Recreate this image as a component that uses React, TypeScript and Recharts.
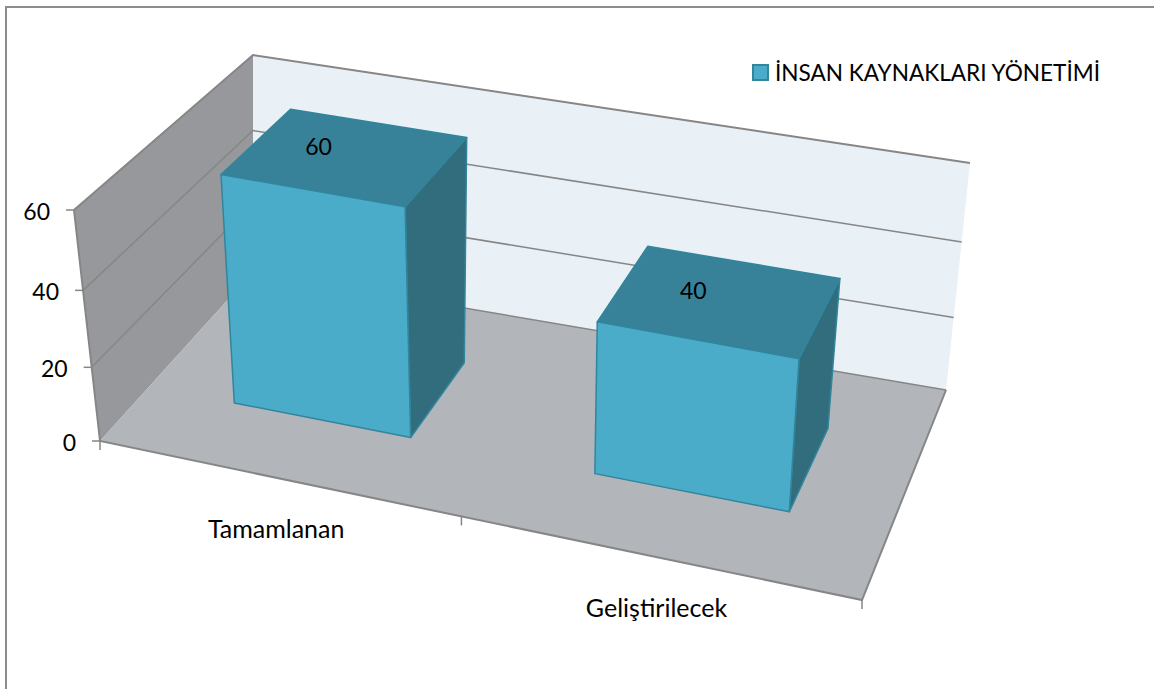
import { Bar, BarChart, Customized, Legend, XAxis, YAxis } from "recharts";

const categories = ["Tamamlanan", "Geliştirilecek"];
const seriesValues = [60, 40];
const seriesName = "İNSAN KAYNAKLARI YÖNETİMİ";
const yTicks = [0, 20, 40, 60];

const chartData = categories.map((name, i) => ({ name, value: seriesValues[i] }));

const FONT = "Lato, 'Open Sans', sans-serif";
const WIDTH = 1154;
const HEIGHT = 689;
// flat plot area that recharts scales into; it is then bent into the 3D box
const PLOT = { left: 100, top: 209, width: 762, height: 232 };
const Y_AXIS_W = 60;
const X_AXIS_H = 30;

type Pt = [number, number];

// unit square to quad (p0 = u0 d0, p1 = u1 d0, p2 = u1 d1, p3 = u0 d1)
function makeQuad(p: Pt[]) {
  const [[x0, y0], [x1, y1], [x2, y2], [x3, y3]] = p;
  const dx1 = x1 - x2;
  const dx2 = x3 - x2;
  const sx = x0 - x1 + x2 - x3;
  const dy1 = y1 - y2;
  const dy2 = y3 - y2;
  const sy = y0 - y1 + y2 - y3;
  const det = dx1 * dy2 - dx2 * dy1;
  const g = (sx * dy2 - dx2 * sy) / det;
  const h = (dx1 * sy - sx * dy1) / det;
  const a = x1 - x0 + g * x1;
  const b = x3 - x0 + h * x3;
  const d = y1 - y0 + g * y1;
  const e = y3 - y0 + h * y3;
  return (u: number, v: number): Pt => {
    const w = g * u + h * v + 1;
    return [(a * u + b * v + x0) / w, (d * u + e * v + y0) / w];
  };
}

const floorQuad = makeQuad([[100, 441], [862, 600], [946, 390], [253, 272]]);
const topQuad = makeQuad([[74, 210], [881, 362], [970, 163], [253, 55]]);

// u along categories, depth into the box, t = share of the value axis
function project(u: number, depth: number, t: number): Pt {
  const k = 0.063; // values squeeze a little towards the floor
  const s = (t * (1 - k)) / (1 - k * t);
  const uu = u + 0.037 * u * (1 - u); // excel's perspective is a bit flatter along the categories
  const a = floorQuad(uu, depth);
  const b = topQuad(uu, depth);
  return [a[0] + (b[0] - a[0]) * s, a[1] + (b[1] - a[1]) * s];
}

const BAR_FRONT = 0.3;
const BAR_BACK = 0.71;

const pts = (list: Pt[]) => list.map((p) => `${p[0]},${p[1]}`).join(" ");
const toU = (x: number) => (x - PLOT.left) / PLOT.width;
const toT = (y: number) => (PLOT.top + PLOT.height - y) / PLOT.height;
const maxY = yTicks[yTicks.length - 1];

function Room() {
  const edge = "#868686";
  return (
    <g>
      <polygon
        points={pts([project(0, 0, 0), project(0, 0, 1), project(0, 1, 1), project(0, 1, 0)])}
        fill="#96989b"
      />
      <polygon
        points={pts([project(0, 1, 0), project(0, 1, 1), project(1, 1, 1), project(1, 1, 0)])}
        fill="#e9f0f6"
      />
      <polygon
        points={pts([project(0, 0, 0), project(1, 0, 0), project(1, 1, 0), project(0, 1, 0)])}
        fill="#b2b6ba"
      />
      {yTicks.map((v) => {
        const t = v / maxY;
        const a = project(0, 0, t);
        return (
          <g key={v}>
            {v > 0 && (
              <polyline
                points={pts([a, project(0, 1, t), project(1, 1, t)])}
                fill="none"
                stroke={edge}
                strokeWidth={v === maxY ? 2 : 1.5}
              />
            )}
            {v === 0 && (
              <line
                x1={project(0, 1, 0)[0]}
                y1={project(0, 1, 0)[1]}
                x2={project(1, 1, 0)[0]}
                y2={project(1, 1, 0)[1]}
                stroke={edge}
                strokeWidth={1.5}
              />
            )}
            <line x1={a[0] - 8} y1={a[1]} x2={a[0]} y2={a[1]} stroke={edge} strokeWidth={1.5} />
          </g>
        );
      })}
      <polyline
        points={pts([project(0, 0, 1), project(0, 0, 0), project(1, 0, 0), project(1, 1, 0)])}
        fill="none"
        stroke={edge}
        strokeWidth={2}
      />
      {[0, 1, 2].map((i) => {
        const p = project(i / categories.length, 0, 0);
        return <line key={i} x1={p[0]} y1={p[1]} x2={p[0]} y2={p[1] + 9} stroke={edge} strokeWidth={1.5} />;
      })}
    </g>
  );
}

function Box3D(props: any) {
  const { x, y, width } = props;
  const u0 = toU(x);
  const u1 = toU(x + width);
  const t = toT(y);
  const stroke = "#31859c";
  return (
    <g strokeWidth={1.5} strokeLinejoin="round">
      <polygon
        points={pts([project(u1, BAR_FRONT, 0), project(u1, BAR_BACK, 0), project(u1, BAR_BACK, t), project(u1, BAR_FRONT, t)])}
        fill="#326d7e"
        stroke={stroke}
      />
      <polygon
        points={pts([project(u0, BAR_FRONT, t), project(u1, BAR_FRONT, t), project(u1, BAR_BACK, t), project(u0, BAR_BACK, t)])}
        fill="#388299"
        stroke={stroke}
      />
      <polygon
        points={pts([project(u0, BAR_FRONT, 0), project(u1, BAR_FRONT, 0), project(u1, BAR_FRONT, t), project(u0, BAR_FRONT, t)])}
        fill="#4aacc8"
        stroke={stroke}
      />
    </g>
  );
}

function TopLabel(props: any) {
  const { x, y, width, value } = props;
  const t = toT(y);
  const p = project(toU(x + width / 2), (BAR_FRONT + BAR_BACK) / 2, t);
  return (
    <text x={p[0] - 27} y={p[1] - 1} fontFamily={FONT} fontSize={23} fill="#000" textAnchor="middle">
      {value}
    </text>
  );
}

function ValueTick(props: any) {
  const { payload } = props;
  const p = project(0, 0, payload.value / maxY);
  return (
    <text x={p[0] - 24} y={p[1] + 10} fontFamily={FONT} fontSize={23} fill="#000" textAnchor="end">
      {payload.value}
    </text>
  );
}

function CategoryTick(props: any) {
  const { x, payload } = props;
  const p = project(toU(x), 0, 0);
  return (
    <text x={p[0]} y={p[1] + 60} fontFamily={FONT} fontSize={25} fill="#000" textAnchor="middle">
      {payload.value}
    </text>
  );
}

function LegendBox(props: any) {
  const item = props.payload?.[0];
  return (
    <div style={{ display: "flex", alignItems: "center", fontFamily: FONT, fontSize: 22.6, color: "#000", whiteSpace: "nowrap" }}>
      <span
        style={{
          display: "inline-block",
          width: 17,
          height: 17,
          boxSizing: "border-box",
          background: "#4aacc8",
          border: "2px solid #31859c",
          marginRight: 6,
        }}
      />
      {item?.value}
    </div>
  );
}

export default function App() {
  return (
    <div style={{ position: "absolute", left: 0, top: 0, width: WIDTH, height: HEIGHT, background: "#fff", overflow: "hidden" }}>
      <div
        style={{
          position: "absolute",
          left: 5,
          top: 6,
          width: WIDTH,
          height: HEIGHT,
          borderTop: "2px solid #8c8c8c",
          borderLeft: "2px solid #8c8c8c",
        }}
      />
      <BarChart
        width={WIDTH}
        height={HEIGHT}
        data={chartData}
        barCategoryGap="25%"
        margin={{
          left: PLOT.left - Y_AXIS_W,
          top: PLOT.top,
          right: WIDTH - PLOT.left - PLOT.width,
          bottom: HEIGHT - PLOT.top - PLOT.height - X_AXIS_H,
        }}
      >
        <Customized component={Room} />
        <XAxis dataKey="name" height={X_AXIS_H} axisLine={false} tickLine={false} interval={0} tick={<CategoryTick />} />
        <YAxis width={Y_AXIS_W} domain={[0, maxY]} ticks={yTicks} axisLine={false} tickLine={false} tick={<ValueTick />} />
        <Legend
          layout="horizontal"
          verticalAlign="middle"
          wrapperStyle={{ left: 752, top: 59, width: 380 }}
          content={<LegendBox />}
        />
        <Bar
          dataKey="value"
          name={seriesName}
          fill="#4aacc8"
          isAnimationActive={false}
          shape={<Box3D />}
          label={<TopLabel />}
        />
      </BarChart>
    </div>
  );
}
